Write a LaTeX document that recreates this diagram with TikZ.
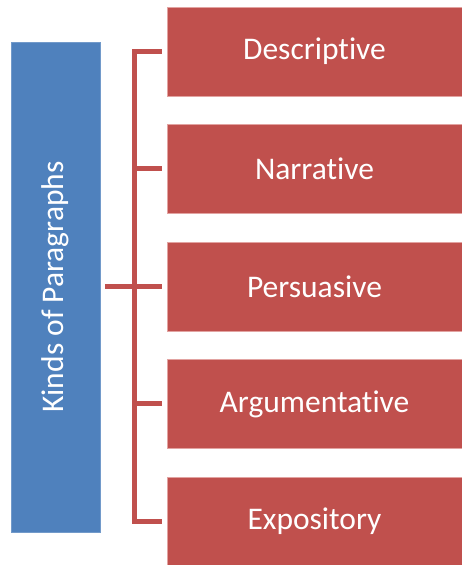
\documentclass[tikz,border=0pt]{standalone}
\usepackage{fontspec}
\setmainfont{Carlito}[Ligatures=NoCommon]
\definecolor{kindblue}{HTML}{4F81BD}
\definecolor{kindred}{HTML}{C0504D}
\definecolor{kindedge}{HTML}{E2A3A1}

\begin{document}
\begin{tikzpicture}[x=1pt,y=1pt,
   kindbox/.style={fill=kindred,draw=kindedge,line width=.8pt,text=white,
      minimum width=295pt,minimum height=89pt,inner sep=0pt,
      font=\fontsize{31.5}{36}\selectfont},
   headbox/.style={fill=kindblue,draw=kindblue!80!white,line width=.8pt,text=white,
      minimum width=490pt,minimum height=89pt,inner sep=0pt,rotate=90,
      font=\fontsize{31.5}{36}\selectfont},
   link/.style={draw=kindred,line width=5pt}]
\useasboundingbox (0,0) rectangle (462,565);

\node[headbox] (kinds) at (55.5,278) {Kinds of Paragraphs};

\foreach \name/\txt [count=\i from 0] in {desc/Descriptive,narr/Narrative,
   pers/Persuasive,argu/Argumentative,expo/Expository}
   \node[kindbox] (\name) at (314.5,513.5-117.5*\i) {\txt};

% bracket
\coordinate (spine) at (134,278);
\draw[link] ([xshift=-5pt]desc.west) -| (spine |- expo.west) -- ([xshift=-5pt]expo.west);
\foreach \name in {narr,pers,argu}
   \draw[link] (spine |- \name.west) -- ([xshift=-5pt]\name.west);
\draw[link] ([xshift=5pt]kinds.south) -- (spine |- kinds.south);

\end{tikzpicture}
\end{document}
